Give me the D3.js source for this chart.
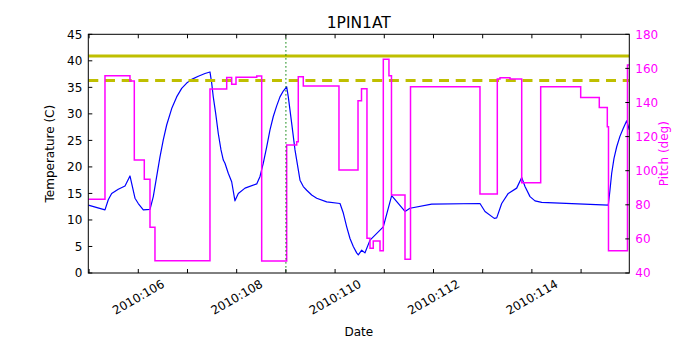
<!DOCTYPE html>
<html>
<head>
<meta charset="utf-8">
<script src="https://cdn.jsdelivr.net/npm/d3@7"></script>
<style>
  html, body { margin: 0; padding: 0; background: #ffffff; }
  svg text { font-family: "DejaVu Sans", sans-serif; }
</style>
</head>
<body>
<svg id="chart" width="700" height="350"></svg>
<script>
// Temperature samples (day of year 2010, deg C)
const tempDays = [104.984, 105.323, 105.390, 105.459, 105.593, 105.730, 105.831, 105.933, 106.000, 106.102,
  106.238, 106.305, 106.374, 106.441, 106.508, 106.577, 106.679, 106.780, 106.882, 106.984,
  107.085, 107.220, 107.356, 107.457, 107.492, 107.524, 107.573, 107.626, 107.681, 107.728,
  107.762, 107.829, 107.898, 107.965, 108.033, 108.169, 108.407, 108.474, 108.541, 108.610,
  108.677, 108.744, 108.813, 108.880, 108.947, 109.016, 109.049, 109.118, 109.185, 109.287,
  109.354, 109.423, 109.524, 109.626, 109.829, 110.100, 110.167, 110.236, 110.303, 110.370,
  110.439, 110.472, 110.541, 110.608, 110.710, 110.980, 111.150, 111.421, 111.522, 111.963,
  112.945, 113.047, 113.236, 113.285, 113.386, 113.520, 113.691, 113.793, 113.860, 113.962,
  114.063, 114.199, 115.553, 115.587, 115.622, 115.669, 115.724, 115.791, 115.858, 115.927,
  115.980];
const tempValues = [12.8, 11.9, 13.8, 15.0, 15.8, 16.4, 18.3, 14.1, 13.1, 11.9,
  12.0, 14.4, 18.2, 21.9, 25.1, 27.9, 31.0, 33.2, 34.8, 35.8,
  36.5, 37.1, 37.6, 37.9, 35.8, 33.2, 30.1, 26.3, 23.2, 21.3,
  20.7, 18.8, 17.2, 13.6, 15.0, 16.0, 16.8, 18.2, 20.7, 23.8,
  27.0, 29.5, 31.5, 33.2, 34.3, 35.1, 33.2, 28.2, 23.2, 17.5,
  16.3, 15.6, 14.7, 14.1, 13.4, 13.1, 11.3, 8.7, 6.5, 5.0,
  3.8, 3.4, 4.3, 3.8, 6.2, 8.7, 14.6, 11.6, 12.2, 13.0,
  13.1, 11.6, 10.3, 10.4, 13.1, 15.0, 16.0, 18.0, 16.3, 14.4,
  13.6, 13.3, 12.8, 15.6, 18.8, 21.6, 23.8, 25.8, 27.3, 28.7,
  27.0];

// Pitch attitude (deg), each value held until the next change
const pitchDays = [104.984, 105.323, 105.831, 105.919, 106.122, 106.238, 106.339, 107.457, 107.797, 107.898,
  107.986, 108.407, 108.508, 109.016, 109.220, 109.252, 109.354, 110.079, 110.466, 110.537,
  110.648, 110.710, 110.776, 110.913, 110.980, 111.095, 111.146, 111.421, 111.533, 112.945,
  113.297, 113.352, 113.555, 113.793, 114.179, 114.992, 115.370, 115.533, 115.557, 115.943,
  115.980];
const pitchValues = [83.2, 155.7, 152.6, 106.3, 95.0, 66.8, 47.2, 147.9, 154.6, 150.7,
  154.8, 155.5, 47.0, 115.1, 117.0, 155.1, 149.7, 100.4, 141.1, 148.0,
  60.4, 54.5, 58.8, 53.1, 165.3, 155.7, 85.7, 48.0, 149.3, 86.3,
  153.8, 154.5, 153.8, 93.0, 149.3, 143.0, 137.0, 125.8, 53.1, 162.0,
  162.0];

// Temperature limits (deg C) and event marker (day)
const limitSolid = 40.9;
const limitDashed = 36.3;
const eventDay = 109.0;

// Axis ticks
const dayTicks = [105, 106, 107, 108, 109, 110, 111, 112, 113, 114, 115];
const dayLabels = [[106, "2010:106"], [108, "2010:108"], [110, "2010:110"], [112, "2010:112"], [114, "2010:114"]];
const tempTicks = [0, 5, 10, 15, 20, 25, 30, 35, 40, 45];
const pitchTicks = [40, 60, 80, 100, 120, 140, 160, 180];

const L = 88.3, R = 629.3, T = 34.3, B = 273;
const svg = d3.select("#chart");

const x = d3.scaleLinear().domain([104.984, 115.98]).range([L, R]);
const yT = d3.scaleLinear().domain([0, 45]).range([B, T]);
const yP = d3.scaleLinear().domain([40, 180]).range([B, T]);

svg.append("defs").append("clipPath").attr("id", "plotClip")
  .append("rect").attr("x", L).attr("y", T).attr("width", R - L).attr("height", B - T);

const plot = svg.append("g").attr("clip-path", "url(#plotClip)");

// Temperature
const tempData = tempDays.map((d, i) => [d, tempValues[i]]);
plot.append("path")
  .attr("d", d3.line().x(d => x(d[0])).y(d => yT(d[1]))(tempData))
  .attr("fill", "none").attr("stroke", "#0000ff").attr("stroke-width", 1.2)
  .attr("stroke-linejoin", "round");

// Limits
plot.append("line").attr("x1", L).attr("x2", R)
  .attr("y1", yT(limitSolid)).attr("y2", yT(limitSolid))
  .attr("stroke", "#bfbf00").attr("stroke-width", 3);
plot.append("line").attr("x1", L).attr("x2", R)
  .attr("y1", yT(limitDashed)).attr("y2", yT(limitDashed))
  .attr("stroke", "#bfbf00").attr("stroke-width", 3).attr("stroke-dasharray", "10,6.7");

// Pitch
const pitchData = pitchDays.map((d, i) => [d, pitchValues[i]]);
plot.append("path")
  .attr("d", d3.line().curve(d3.curveStepAfter).x(d => x(d[0])).y(d => yP(d[1]))(pitchData))
  .attr("fill", "none").attr("stroke", "#ff00ff").attr("stroke-width", 1.5);

// Event marker
plot.append("line").attr("x1", x(eventDay)).attr("x2", x(eventDay))
  .attr("y1", T).attr("y2", B)
  .attr("stroke", "#008000").attr("stroke-width", 1.2).attr("stroke-dasharray", "1.2,2.8");

// Ticks (inward)
const tk = svg.append("g").attr("stroke", "#000").attr("stroke-width", 1);
dayTicks.forEach(d => {
  tk.append("line").attr("x1", x(d)).attr("x2", x(d)).attr("y1", B).attr("y2", B - 4);
  tk.append("line").attr("x1", x(d)).attr("x2", x(d)).attr("y1", T).attr("y2", T + 4);
});
tempTicks.forEach(v => {
  tk.append("line").attr("x1", L).attr("x2", L + 4).attr("y1", yT(v)).attr("y2", yT(v));
});
pitchTicks.forEach(v => {
  tk.append("line").attr("x1", R).attr("x2", R - 4).attr("y1", yP(v)).attr("y2", yP(v));
});

// Frame
svg.append("rect").attr("x", L).attr("y", T).attr("width", R - L).attr("height", B - T)
  .attr("fill", "none").attr("stroke", "#000").attr("stroke-width", 1);

// Tick labels
tempTicks.forEach(v => {
  svg.append("text").attr("x", L - 6).attr("y", yT(v)).attr("dy", "0.36em")
    .attr("text-anchor", "end").attr("font-size", 12).attr("fill", "#000").text(v);
});
pitchTicks.forEach(v => {
  svg.append("text").attr("x", R + 6).attr("y", yP(v)).attr("dy", "0.36em")
    .attr("text-anchor", "start").attr("font-size", 12).attr("fill", "#ff00ff").text(v);
});
dayLabels.forEach(([d, s]) => {
  svg.append("text").attr("transform", `translate(${x(d)},297) rotate(-30)`)
    .attr("dy", "0.36em").attr("text-anchor", "middle").attr("font-size", 12)
    .attr("fill", "#000").text(s);
});

// Titles
svg.append("text").attr("x", (L + R) / 2).attr("y", 28.3).attr("text-anchor", "middle")
  .attr("font-size", 15.5).attr("fill", "#000").text("1PIN1AT");
svg.append("text").attr("x", (L + R) / 2).attr("y", 336).attr("text-anchor", "middle")
  .attr("font-size", 12).attr("fill", "#000").text("Date");
svg.append("text").attr("transform", `translate(54,${(T + B) / 2}) rotate(-90)`)
  .attr("text-anchor", "middle").attr("font-size", 12).attr("fill", "#000").text("Temperature (C)");
svg.append("text").attr("transform", `translate(668,${(T + B) / 2}) rotate(-90)`)
  .attr("text-anchor", "middle").attr("font-size", 12).attr("fill", "#ff00ff").text("Pitch (deg)");
</script>
</body>
</html>
